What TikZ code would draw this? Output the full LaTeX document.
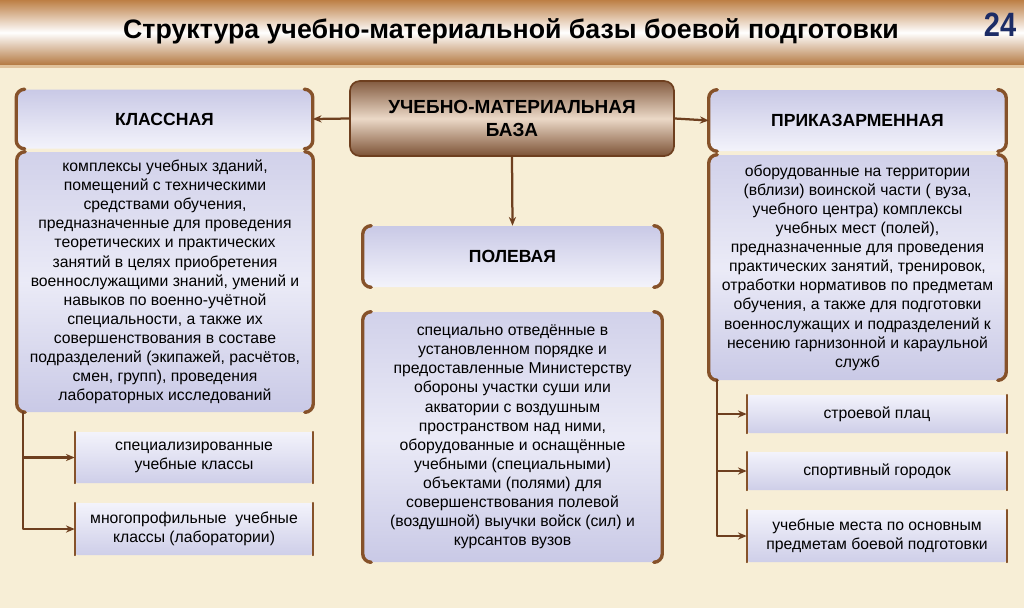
\documentclass[tikz,border=0pt]{standalone}
\usepackage{fontspec}
\setmainfont{Liberation Sans}
\newfontfamily\narrowfont{Liberation Sans}[FakeStretch=0.86]
\usepackage{xcolor}
\usetikzlibrary{arrows.meta,backgrounds,calc,positioning}
\definecolor{umbpaper}{HTML}{F7EED6}
\definecolor{umbbrown}{HTML}{6E3F1F}
\definecolor{umbbar}{HTML}{BD7F45}
\definecolor{umblav}{HTML}{C9C9E6}
\definecolor{umblight}{HTML}{F3F3FB}
\definecolor{umbnavy}{HTML}{1C2C66}
\newcommand{\px}{0.025cm}
\tikzset{
  every picture/.append style={line cap=round,line join=round},
  umb header/.style={rounded corners=6pt,top color=umblav,bottom color=umblight,
    font=\fontsize{12.5}{14}\selectfont\bfseries,align=center,inner sep=0pt},
  umb text/.style={rounded corners=6pt,top color=umblav!85,bottom color=umblav,
    middle color=umblight!80!umblav,
    font=\fontsize{11.2}{13.6}\selectfont,align=center,inner sep=0pt},
  umb sub/.style={rounded corners=2pt,top color=umblight,bottom color=umblav!90,
    font=\fontsize{11.2}{13.6}\selectfont,align=center,inner sep=0pt},
  umb main/.style={rounded corners=7pt,top color=umbbrown!85,bottom color=umbbrown!90,
    middle color=umbbar!30!white,draw=umbbrown,line width=1.2pt,
    font=\fontsize{13.5}{16}\selectfont\bfseries,align=center,inner sep=0pt},
  umb bracket/.style={umbbrown!70!umbbar,line width=2.4pt,rounded corners=6pt},
  umb thin/.style={umbbrown!70!umbbar,line width=1.3pt},
  umb arrow/.style={umbbrown,line width=1.6pt,-{Stealth[length=2.2mm,width=1.8mm]}}
}

\begin{document}
\begin{tikzpicture}[x=\px, y=-\px]
  % background and title bar
  \fill[umbpaper] (0,0) rectangle (1024,608);
  \useasboundingbox (0,0) rectangle (1024,608);
  \shade[top color=umbbar,bottom color=umbbar!95!black,middle color=white] (0,0) rectangle (1024,65);
  \fill[umbbar!40!umbpaper] (0,65) rectangle (1024,67.5);
  \node[font=\fontsize{19}{22}\selectfont\bfseries] (title) at (511,31)
    {Структура учебно-материальной базы боевой подготовки};
  \node[font=\narrowfont\fontsize{24}{26}\selectfont\bfseries,text=umbnavy] (page) at (1000,25) {24};

  % main node
  \node[umb main,minimum width=324*\px,minimum height=75*\px] (base) at (512,118.5)
    {УЧЕБНО-МАТЕРИАЛЬНАЯ\\БАЗА};

  % three kinds
  \node[umb header,minimum width=296*\px,minimum height=59*\px] (klass) at (164.5,119) {КЛАССНАЯ};
  \node[umb header,minimum width=299*\px,minimum height=61*\px] (pole) at (512.5,256.5) {ПОЛЕВАЯ};
  \node[umb header,minimum width=297*\px,minimum height=61*\px] (kaz) at (857.5,120.5) {ПРИКАЗАРМЕННАЯ};

  % descriptions
  \node[umb text,minimum width=296*\px,minimum height=260*\px] (klasstext) at (165,282)
    {комплексы учебных зданий,\\помещений с техническими\\средствами обучения,\\
     предназначенные для проведения\\теоретических и практических\\
     занятий в целях приобретения\\военнослужащими знаний, умений и\\
     навыков по военно-учётной\\специальности, а также их\\
     совершенствования в составе\\подразделений (экипажей, расчётов,\\
     смен, групп), проведения\\лабораторных исследований};
  \node[umb text,minimum width=299*\px,minimum height=250*\px] (poletext) at (512.5,437)
    {специально отведённые в\\установленном порядке и\\предоставленные Министерству\\
     обороны участки суши или\\акватории с воздушным\\пространством над ними,\\
     оборудованные и оснащённые\\учебными (специальными)\\объектами (полями) для\\
     совершенствования полевой\\(воздушной) выучки войск (сил) и\\курсантов вузов};
  \node[umb text,minimum width=297*\px,minimum height=225*\px] (kaztext) at (857.5,267.5)
    {оборудованные на территории\\(вблизи) воинской части ( вуза,\\учебного центра) комплексы\\
     учебных мест (полей),\\предназначенные для проведения\\практических занятий, тренировок,\\
     отработки нормативов по предметам\\обучения, а также для подготовки\\
     военнослужащих и подразделений к\\несению гарнизонной и караульной\\служб};

  % sub items
  \node[umb sub,minimum width=238*\px,minimum height=51*\px] (klass1) at (194,457.5)
    {специализированные\\учебные классы};
  \node[umb sub,minimum width=238*\px,minimum height=52*\px] (klass2) at (194,529)
    {многопрофильные\ \ учебные\\классы (лаборатории)};
  \node[umb sub,minimum width=260*\px,minimum height=38*\px] (kaz1) at (877,414) {строевой плац};
  \node[umb sub,minimum width=260*\px,minimum height=38*\px] (kaz2) at (877,471) {спортивный городок};
  \node[umb sub,minimum width=260*\px,minimum height=52*\px] (kaz3) at (877,536)
    {учебные места по основным\\предметам боевой подготовки};

  % side brackets
  \foreach \n in {klass,pole,kaz,klasstext,poletext,kaztext} {
    \draw[umb bracket] ([xshift=7*\px]\n.north west) -- (\n.north west) -- (\n.south west)
      -- ([xshift=7*\px]\n.south west);
    \draw[umb bracket] ([xshift=-7*\px]\n.north east) -- (\n.north east) -- (\n.south east)
      -- ([xshift=-7*\px]\n.south east);
  }
  \foreach \n in {klass1,klass2,kaz1,kaz2,kaz3} {
    \draw[umb thin] (\n.north west) -- (\n.south west);
    \draw[umb thin] (\n.north east) -- (\n.south east);
  }

  % connectors
  \draw[umb arrow] (base.west) -- (klass.east);
  \draw[umb arrow] (base.east) -- (kaz.west);
  \draw[umb arrow] (base.south) -- (pole.north);

  \coordinate (ltrunk) at ([xshift=6*\px]klasstext.south west);
  \coordinate (rtrunk) at ([xshift=8*\px]kaztext.south west);
  \draw[umb arrow] (ltrunk) |- (klass1.west);
  \draw[umb arrow] (ltrunk) |- (klass2.west);
  \draw[umb arrow] (rtrunk) |- (kaz1.west);
  \draw[umb arrow] (rtrunk) |- (kaz2.west);
  \draw[umb arrow] (rtrunk) |- (kaz3.west);
\end{tikzpicture}
\end{document}
